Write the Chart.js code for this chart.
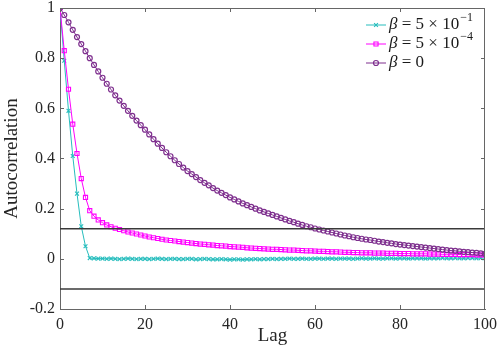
<!DOCTYPE html>
<html><head><meta charset="utf-8">
<script src="https://cdn.jsdelivr.net/npm/chart.js@4/dist/chart.umd.min.js"></script>
<style>html,body{margin:0;padding:0;background:#fff;}</style>
</head><body>
<canvas id="c" width="500" height="347"></canvas>
<script>
// ---------- data ----------
const lags = Array.from({length: 101}, (_, i) => i);

const acfBetaHigh = [ // beta = 5e-1
  1.000,0.790,0.590,0.410,0.260,0.130,0.050,
  0.003,0.002,0.001,0.001,0.000,0.001,0.000,-0.001,0.000,0.001,
  0.000,-0.001,0.000,0.000,-0.001,0.000,0.001,0.000,-0.001,0.000,
  0.000,-0.001,-0.001,0.000,0.000,-0.002,-0.001,0.000,-0.001,-0.002,
  -0.002,-0.001,-0.002,-0.003,-0.002,-0.002,-0.003,-0.002,-0.002,-0.001,
  -0.002,-0.001,-0.001,0.000,-0.001,0.000,0.000,0.001,0.000,0.000,
  0.001,0.000,0.000,0.001,0.001,0.000,0.001,0.001,0.000,0.001,
  0.001,0.001,0.000,0.001,0.002,0.001,0.001,0.002,0.001,0.001,
  0.002,0.002,0.001,0.002,0.002,0.001,0.002,0.002,0.002,0.001,
  0.002,0.002,0.002,0.003,0.002,0.002,0.003,0.002,0.002,0.003,
  0.003,0.002,0.003,0.003
];

const acfBetaLow = [ // beta = 5e-4
  1.000,0.830,0.676,0.537,0.420,0.320,0.245,0.192,0.170,0.155,
  0.144,0.135,0.128,0.122,0.117,0.112,0.107,0.103,0.099,0.095,
  0.091,0.087,0.084,0.081,0.078,0.075,0.073,0.071,0.069,0.067,
  0.065,0.063,0.061,0.059,0.058,0.056,0.055,0.053,0.052,0.051,
  0.049,0.048,0.047,0.046,0.044,0.043,0.042,0.041,0.040,0.039,
  0.038,0.038,0.037,0.036,0.035,0.035,0.034,0.033,0.032,0.032,
  0.031,0.030,0.030,0.029,0.028,0.028,0.027,0.026,0.026,0.025,
  0.025,0.024,0.024,0.024,0.023,0.023,0.023,0.022,0.022,0.022,
  0.021,0.021,0.021,0.020,0.020,0.020,0.020,0.019,0.019,0.019,
  0.018,0.018,0.018,0.018,0.017,0.017,0.017,0.017,0.016,0.016,
  0.016
];

const acfBetaZero = [ // beta = 0
  1.000,0.972,0.943,0.913,0.884,0.856,0.828,0.800,0.773,0.747,
  0.722,0.698,0.675,0.652,0.631,0.610,0.590,0.570,0.551,0.533,
  0.515,0.496,0.477,0.459,0.442,0.425,0.409,0.393,0.378,0.364,
  0.350,0.338,0.326,0.314,0.303,0.293,0.282,0.272,0.263,0.254,
  0.245,0.237,0.229,0.221,0.214,0.207,0.200,0.193,0.187,0.181,
  0.175,0.169,0.163,0.157,0.151,0.146,0.140,0.135,0.130,0.126,
  0.121,0.117,0.113,0.109,0.105,0.101,0.097,0.093,0.090,0.086,
  0.083,0.080,0.077,0.075,0.072,0.069,0.067,0.064,0.062,0.059,
  0.057,0.055,0.053,0.051,0.049,0.047,0.045,0.043,0.041,0.039,
  0.037,0.035,0.033,0.032,0.030,0.028,0.027,0.025,0.024,0.022,
  0.020
];

const confBound = 0.12;
const boundLags = [0, 100];
const xTickValues = [0, 20, 40, 60, 80, 100];
const yTickValues = [-0.2, 0, 0.2, 0.4, 0.6, 0.8, 1];
// legend labels: [symbol, body, superscript]
const legendHigh = ['β', ' = 5 × 10', '−1'];
const legendLow  = ['β', ' = 5 × 10', '−4'];
const legendZero = ['β', ' = 0', ''];

// ---------- styling ----------
const CYAN = '#26bdbd';
const MAGENTA = '#ff00ff';
const PURPLE = '#7e2f8e';
const AXIS = '#666666';
const SERIF = '"Liberation Serif", "DejaVu Serif", serif';

const toXY = (vals) => vals.map((v, i) => ({x: lags[i], y: v}));
const boundXY = (v) => boundLags.map(l => ({x: l, y: v}));

const datasets = [
  {label: legendHigh.join(''), legendParts: legendHigh, data: toXY(acfBetaHigh),
   borderColor: CYAN, backgroundColor: CYAN, borderWidth: 1,
   pointStyle: 'crossRot', pointRadius: 2.7, pointBorderWidth: 1.1, order: 3},
  {label: legendLow.join(''), legendParts: legendLow, data: toXY(acfBetaLow),
   borderColor: MAGENTA, backgroundColor: 'rgba(255,255,255,0)', borderWidth: 1,
   pointStyle: 'rect', pointRadius: 2.9, pointBorderWidth: 1.1, order: 2},
  {label: legendZero.join(''), legendParts: legendZero, data: toXY(acfBetaZero),
   borderColor: PURPLE, backgroundColor: 'rgba(255,255,255,0)', borderWidth: 1,
   pointStyle: 'circle', pointRadius: 2.5, pointBorderWidth: 1.2, order: 1},
  {label: 'upper', isBound: true, data: boundXY(confBound),
   borderColor: '#3a3a3a', borderWidth: 1.6, pointRadius: 0, order: 0},
  {label: 'lower', isBound: true, data: boundXY(-confBound),
   borderColor: '#3a3a3a', borderWidth: 1.6, pointRadius: 0, order: 0}
];

function drawFrame(chart) {
  const ctx = chart.ctx, a = chart.chartArea;
  const sx = chart.scales.x, sy = chart.scales.y;
  const L = Math.round(a.left), R = Math.round(a.right) - 1;
  const T = Math.round(a.top), B = Math.round(a.bottom);
  ctx.save();
  ctx.fillStyle = AXIS;
  ctx.fillRect(L, T, R - L + 1, 1);      // top edge
  ctx.fillRect(R, T, 1, B - T + 1);      // right edge
  const tl = 4;
  sx.ticks.forEach(t => {
    const px = Math.min(Math.round(sx.getPixelForValue(t.value)), R);
    ctx.fillRect(px, B - tl, 1, tl);
    ctx.fillRect(px, T, 1, tl);
  });
  sy.ticks.forEach(t => {
    const py = Math.min(Math.round(sy.getPixelForValue(t.value)), B);
    ctx.fillRect(L, py, tl, 1);
    ctx.fillRect(R - tl + 1, py, tl, 1);
  });
  ctx.restore();
}

function drawLegend(chart) {
  const ctx = chart.ctx;
  const rows = [25, 44, 63];
  let r = 0;
  chart.data.datasets.forEach(ds => {
    if (ds.isBound) return;
    const yy = rows[r++];
    ctx.save();
    ctx.strokeStyle = ds.borderColor;
    ctx.fillStyle = ds.backgroundColor;
    ctx.lineWidth = 1;
    ctx.beginPath(); ctx.moveTo(366, yy); ctx.lineTo(386, yy); ctx.stroke();
    ctx.lineWidth = ds.pointBorderWidth;
    Chart.helpers.drawPoint(ctx, {pointStyle: ds.pointStyle, radius: ds.pointRadius, rotation: 0, borderWidth: ds.pointBorderWidth}, 376, yy);
    ctx.fillStyle = '#1a1a1a';
    ctx.textBaseline = 'middle';
    ctx.textAlign = 'left';
    const [sym, body, sup] = ds.legendParts;
    let xx = 389;
    ctx.font = 'italic 17px ' + SERIF;
    ctx.fillText(sym, xx, yy); xx += ctx.measureText(sym).width;
    ctx.font = '17px ' + SERIF;
    ctx.fillText(body, xx, yy); xx += ctx.measureText(body).width + 1;
    if (sup) { ctx.font = '12px ' + SERIF; ctx.fillText(sup, xx, yy - 7); }
    ctx.restore();
  });
}

const overlay = {
  id: 'overlay',
  afterDraw(chart) {
    try { drawFrame(chart); } catch (e) {
      chart.ctx.fillStyle = 'red'; chart.ctx.font = '12px sans-serif';
      chart.ctx.fillText('frame: ' + e.message, 80, 120);
    }
    try { drawLegend(chart); } catch (e) {
      chart.ctx.fillStyle = 'red'; chart.ctx.font = '12px sans-serif';
      chart.ctx.fillText('legend: ' + e.message, 80, 140);
    }
  }
};

const fmt = v => { const r = Math.round(v * 10) / 10; return r === 0 ? '0' : String(r); };
const hiddenTicks = {display: true, drawOnChartArea: false, drawTicks: true, tickLength: 5, color: 'rgba(0,0,0,0)'};
const axisBorder = {display: true, color: AXIS, width: 1};

new Chart(document.getElementById('c'), {
  type: 'line',
  data: {datasets},
  plugins: [overlay],
  options: {
    responsive: false, animation: false, devicePixelRatio: 1,
    layout: {padding: {left: 0, right: 13, top: 8, bottom: 0}},
    plugins: {legend: {display: false}, tooltip: {enabled: false}},
    elements: {line: {tension: 0}},
    scales: {
      x: {
        type: 'linear', min: 0, max: 100,
        grid: hiddenTicks, border: axisBorder,
        afterBuildTicks: s => { s.ticks = xTickValues.map(v => ({value: v})); },
        ticks: {font: {family: SERIF, size: 16, lineHeight: 1}, color: '#262626', padding: 3, maxRotation: 0, callback: fmt},
        title: {display: true, text: 'Lag', font: {family: SERIF, size: 19}, color: '#262626', padding: {top: 0, bottom: 0}},
        afterFit: s => { s.height = 38; }
      },
      y: {
        type: 'linear', min: -0.2, max: 1,
        grid: hiddenTicks, border: axisBorder,
        afterBuildTicks: s => { s.ticks = yTickValues.map(v => ({value: v})); },
        ticks: {font: {family: SERIF, size: 16, lineHeight: 1}, color: '#262626', padding: 0, callback: fmt},
        title: {display: true, text: 'Autocorrelation', font: {family: SERIF, size: 19}, color: '#262626', padding: {top: 1, bottom: 0}},
        afterFit: s => { s.width = 60; }
      }
    }
  }
});
</script>
</body></html>
